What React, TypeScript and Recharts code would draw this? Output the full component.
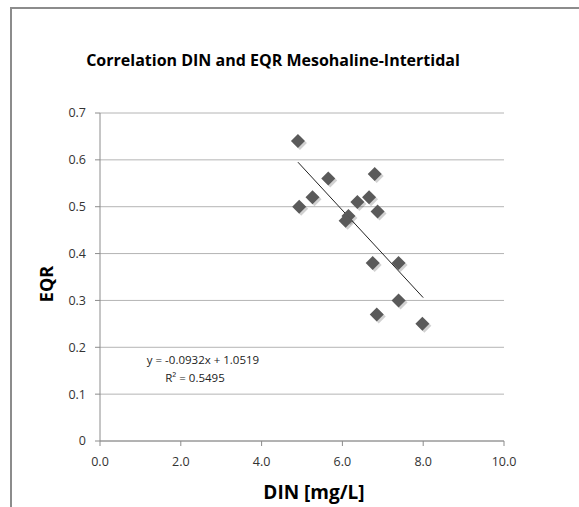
import { ScatterChart, Scatter, XAxis, YAxis, CartesianGrid, ReferenceLine, Customized } from "recharts";

// DIN [mg/L] vs EQR
const din = [4.9, 4.93, 5.26, 5.65, 6.15, 6.08, 6.37, 6.66, 6.8, 6.87, 6.75, 7.39, 7.39, 6.85, 7.98];
const eqr = [0.64, 0.5, 0.52, 0.56, 0.48, 0.47, 0.51, 0.52, 0.57, 0.49, 0.38, 0.38, 0.3, 0.27, 0.25];

// trendline end points
const trendX = [4.9, 8.0];
const trendY = [0.595, 0.306];

const xTicks = [0, 2, 4, 6, 8, 10];
const yTicks = [0, 0.1, 0.2, 0.3, 0.4, 0.5, 0.6, 0.7];

const points = din.map((x, i) => ({ x, y: eqr[i] }));

const FONT = "'Open Sans', 'Liberation Sans', sans-serif";

const Diamond = (props: any) => {
  const { cx, cy } = props;
  const r = 7;
  const pts = (dx: number, dy: number) =>
    `${cx + dx},${cy + dy - r} ${cx + dx + r},${cy + dy} ${cx + dx},${cy + dy + r} ${cx + dx - r},${cy + dy}`;
  return (
    <g>
      <polygon points={pts(2, 2)} fill="#000" fillOpacity={0.18} />
      <polygon points={pts(0, 0)} fill="#5a5a5a" />
    </g>
  );
};

const Texts = () => (
  <g fontFamily={FONT}>
    <text x={273} y={66} textAnchor="middle" fontSize={16} fontWeight="bold" fill="#000">
      Correlation DIN and EQR Mesohaline-Intertidal
    </text>
    <text x={314} y={499} textAnchor="middle" fontSize={19} fontWeight="bold" fill="#000">
      DIN [mg/L]
    </text>
    <text x={53} y={284} textAnchor="middle" fontSize={18} fontWeight="bold" fill="#000" transform="rotate(-90 53 284)">
      EQR
    </text>
    <text x={203} y={364} textAnchor="middle" fontSize={11.5} fill="#222">
      y = -0.0932x + 1.0519
    </text>
    <text x={195} y={382} textAnchor="middle" fontSize={11.5} fill="#222">
      R² = 0.5495
    </text>
  </g>
);

export default function App() {
  return (
    <div style={{ position: "absolute", left: 0, top: 0, width: 579, height: 507, overflow: "hidden", background: "#fff" }}>
      <div
        style={{
          position: "absolute",
          left: 10,
          top: 7,
          width: 620,
          height: 540,
          borderLeft: "2px solid #8c8c8c",
          borderTop: "2px solid #8c8c8c",
        }}
      />
      <div style={{ position: "absolute", left: 0, top: 0 }}>
        <ScatterChart width={579} height={507} margin={{ top: 113, right: 75, bottom: 26, left: 40 }}>
          <CartesianGrid vertical={false} stroke="#b4b4b4" />
          <XAxis
            type="number"
            dataKey="x"
            domain={[0, 10]}
            ticks={xTicks}
            tickFormatter={(v: number) => v.toFixed(1)}
            height={40}
            tickSize={5}
            tickMargin={11}
            stroke="#8c8c8c"
            tick={{ fill: "#333", fontSize: 12.5, fontFamily: FONT }}
          />
          <YAxis
            type="number"
            dataKey="y"
            domain={[0, 0.7]}
            ticks={yTicks}
            tickFormatter={(v: number) => (v === 0 ? "0" : v.toFixed(1))}
            width={60}
            tickSize={5}
            tickMargin={9}
            stroke="#8c8c8c"
            tick={{ fill: "#333", fontSize: 12.5, fontFamily: FONT }}
          />
          <ReferenceLine
            segment={[
              { x: trendX[0], y: trendY[0] },
              { x: trendX[1], y: trendY[1] },
            ]}
            stroke="#222"
            strokeWidth={1}
          />
          <Scatter data={points} shape={<Diamond />} isAnimationActive={false} />
          <Customized component={Texts} />
        </ScatterChart>
      </div>
    </div>
  );
}
